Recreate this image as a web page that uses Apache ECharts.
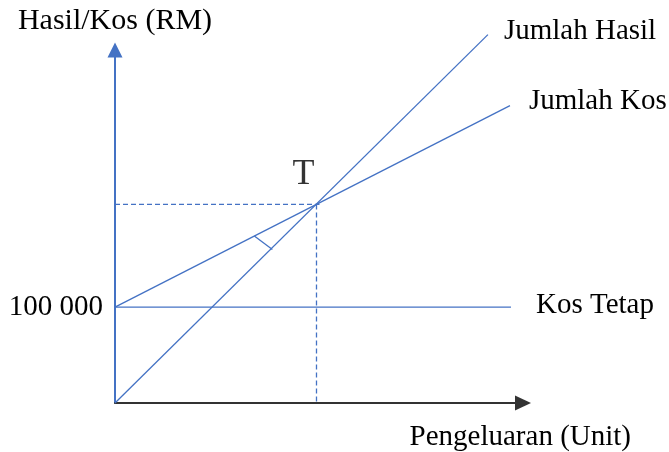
<!DOCTYPE html>
<html>
<head>
<meta charset="utf-8">
<script src="https://cdn.jsdelivr.net/npm/echarts@6/dist/echarts.min.js"></script>
<style>html,body{margin:0;padding:0;background:#fff}#c{width:669px;height:452px}</style>
</head>
<body>
<div id="c"></div>
<script>
// Values (x: units of output, y: RM)
var seriesNames = ['Jumlah Hasil', 'Jumlah Kos', 'Kos Tetap'];
var jumlahHasil = [[0, 0], [744, 384000]];
var jumlahKos = [[0, 100000], [788, 310000]];
var kosTetap = [[0, 100000], [790, 100000]];
var breakEven = [402, 207000];           // point T
var angleMark = [[278, 174000], [314, 160000]];
var yTickLabels = { 100000: '100 000' };
var xMax = 814, yMax = 368000;

var BLUE = '#4472C4';
var FONT = '"Liberation Serif", "Times New Roman", serif';

function endLabel(dist, dy) {
  return { show: true, formatter: '{a}', distance: dist, offset: [0, dy],
    color: '#000', fontSize: 29, fontFamily: FONT };
}

var lineStyle = { color: BLUE, width: 1.3 };
var chart = echarts.init(document.getElementById('c'), null, { renderer: 'canvas' });
chart.setOption({
  animation: false,
  backgroundColor: '#fff',
  grid: { left: 115, right: 146, top: 50, bottom: 49, containLabel: false },
  xAxis: {
    type: 'value', min: 0, max: xMax,
    name: 'Pengeluaran (Unit)', nameLocation: 'end', nameGap: 108,
    nameTextStyle: { fontSize: 29, fontFamily: FONT, color: '#000', align: 'right', verticalAlign: 'top',
      lineHeight: 29, padding: [20, 0, 0, 0] },
    axisLine: { show: true, symbol: ['none', 'triangle'], symbolSize: [15, 16],
      lineStyle: { color: '#333', width: 2 } },
    axisTick: { show: false }, axisLabel: { show: false }, splitLine: { show: false }
  },
  yAxis: {
    type: 'value', min: 0, max: yMax, interval: 100000,
    name: 'Hasil/Kos (RM)', nameLocation: 'end', nameGap: 14,
    nameTextStyle: { fontSize: 30, fontFamily: FONT, color: '#000', lineHeight: 30, padding: [0, 0, 0, 0] },
    axisLine: { show: true, symbol: ['none', 'triangle'], symbolSize: [15, 15],
      lineStyle: { color: BLUE, width: 2 } },
    axisTick: { show: false }, splitLine: { show: false },
    axisLabel: { show: true, margin: 12, fontSize: 29, fontFamily: FONT, color: '#000',
      formatter: function (v) { return yTickLabels[v] || ''; } }
  },
  series: [
    { name: seriesNames[0], type: 'line', clip: false, symbol: 'none', lineStyle: lineStyle,
      endLabel: endLabel(16, -3), data: jumlahHasil },
    { name: seriesNames[1], type: 'line', clip: false, symbol: 'none', lineStyle: lineStyle,
      endLabel: endLabel(19, -4), data: jumlahKos },
    { name: seriesNames[2], type: 'line', clip: false, symbol: 'none', lineStyle: lineStyle,
      endLabel: endLabel(25, -2), data: kosTetap },
    { name: 'guideH', type: 'line', clip: false, symbol: 'none',
      lineStyle: { color: BLUE, width: 1.3, type: [5, 3] },
      data: [[0, breakEven[1]], [breakEven[0] + 6, breakEven[1]]] },
    { name: 'guideV', type: 'line', clip: false, symbol: 'none',
      lineStyle: { color: BLUE, width: 1.3, type: [5, 3] },
      data: [[breakEven[0], breakEven[1]], [breakEven[0], 0]] },
    { name: 'mark', type: 'line', clip: false, symbol: 'none', lineStyle: lineStyle, data: angleMark },
    { name: 'T', type: 'scatter', symbolSize: 0, clip: false,
      data: [{ value: breakEven, label: { show: true, position: 'top', distance: 12, offset: [-13, 0],
        formatter: 'T', color: '#000', fontSize: 36, fontFamily: FONT } }] }
  ]
});
</script>
</body>
</html>
